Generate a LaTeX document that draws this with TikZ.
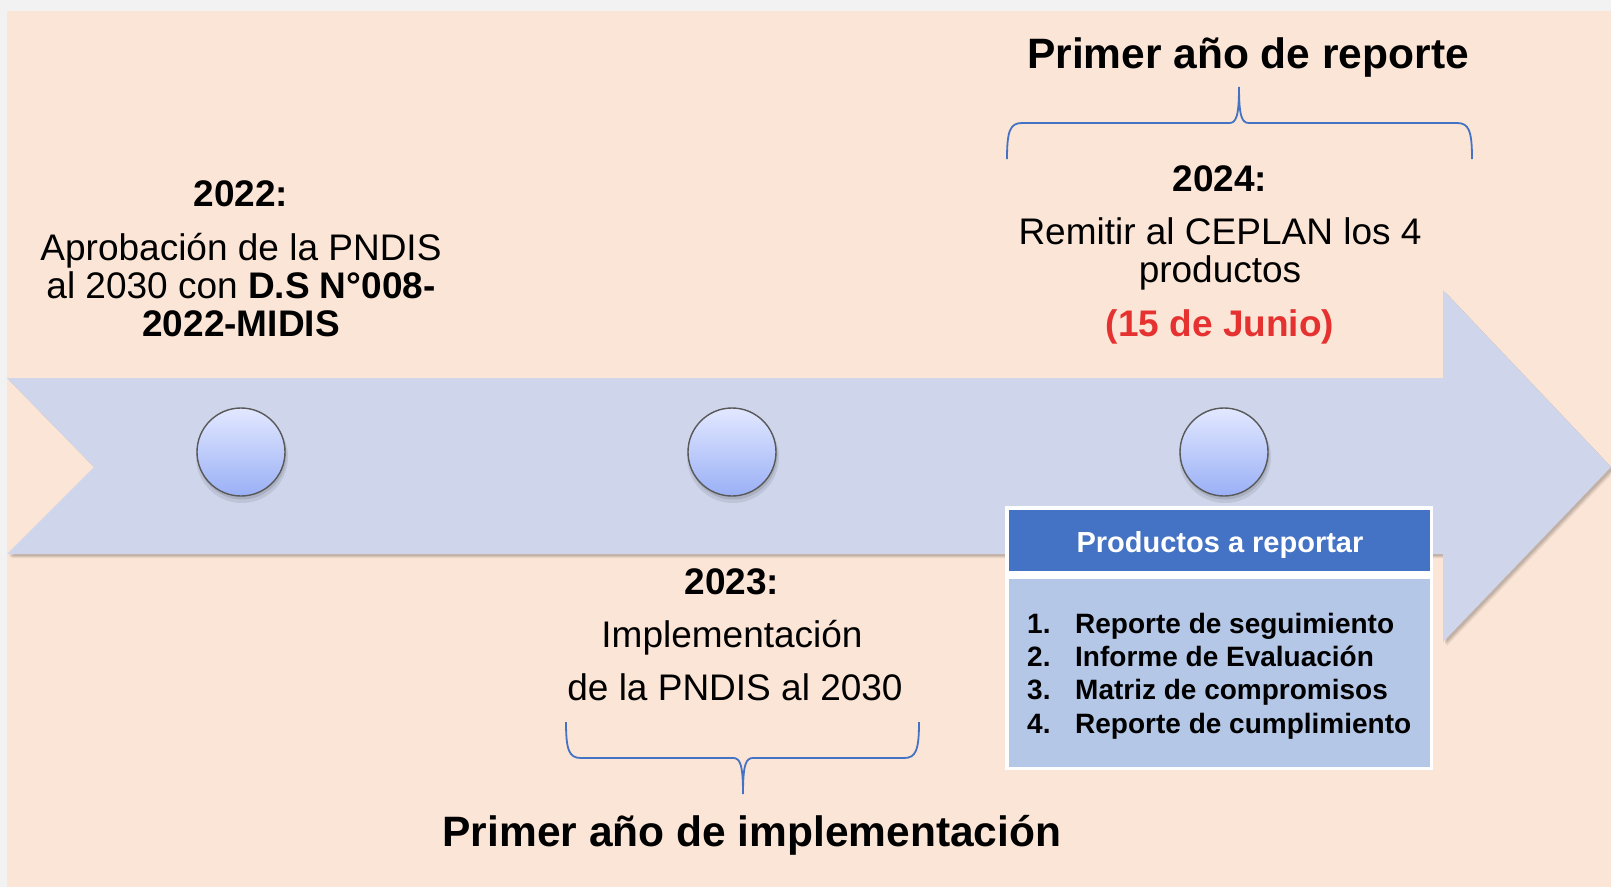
\documentclass[tikz,border=0pt]{standalone}
\usepackage{fontspec}
\setmainfont{Liberation Sans}
\definecolor{outerbg}{HTML}{F2F2F2}
\definecolor{peach}{HTML}{FBE5D6}
\definecolor{arrowc}{HTML}{CFD5EA}
\definecolor{hdrblue}{HTML}{4472C4}
\definecolor{bodyblue}{HTML}{B4C7E7}
\definecolor{bracec}{HTML}{4472C4}
\definecolor{redtxt}{RGB}{229,50,48}
\definecolor{dottop}{HTML}{E2E8FF}
\definecolor{dotbot}{HTML}{9AB0F6}
\tikzset{
  body/.style={anchor=base, inner sep=0pt, font=\fontsize{37}{38.5}\selectfont},
  bodyb/.style={body, font=\fontsize{37}{38.5}\selectfont\bfseries},
  titletxt/.style={anchor=base, inner sep=0pt, font=\fontsize{42.5}{44}\selectfont\bfseries},
  listtxt/.style={anchor=base west, inner sep=0pt, font=\fontsize{28}{30}\selectfont\bfseries},
  dot/.style={circle, minimum size=88pt, inner sep=0pt, draw={black!65}, line width=1.4pt,
    top color=dottop, bottom color=dotbot},
  bracestyle/.style={draw=bracec, line width=1.8pt},
  panel/.style={inner sep=0pt, outer sep=0pt, anchor=north west}
}
\begin{document}
\begin{tikzpicture}[x=1pt,y=-1pt]
\useasboundingbox (0,0) rectangle (1611,887);
\fill[outerbg] (0,0) rectangle (1611,887);
\fill[peach] (7,11) rectangle (1611,887);
% arrow shadow
\foreach \s/\o in {4/0.06,3/0.08,2/0.10}{
  \fill[black,opacity=\o,shift={(\s,\s)}] (7,378) -- (1443,378) -- (1443,290) -- (1611,467) -- (1443,642) -- (1443,554) -- (7,554) -- (94,467) -- cycle;
}
% arrow
\fill[arrowc] (7,378) -- (1443,378) -- (1443,290) -- (1611,467) -- (1443,642) -- (1443,554) -- (7,554) -- (94,467) -- cycle;
% circle shadows
\foreach \cx in {241,732,1224}{
  \fill[black,opacity=0.08] (\cx+1,457) circle (46);
  \fill[black,opacity=0.10] (\cx+1,455) circle (44.5);
}
\node[dot] (c1) at (241,452) {};
\node[dot] (c2) at (732,452) {};
\node[dot] (c3) at (1224,452) {};
% 2022 text
\node[bodyb] (y22) at (241,206) {2022:};
\node[body] (t22a) at (241,260) {Aprobación de la PNDIS};
\node[body] (t22b) at (241,298) {al 2030 con \textbf{D.S N°008-}};
\node[bodyb] (t22c) at (241,336) {2022-MIDIS};
% 2024 text
\node[bodyb] (y24) at (1220,191) {2024:};
\node[body] (t24a) at (1220,244) {Remitir al CEPLAN los 4};
\node[body] (t24b) at (1220,282) {productos};
\node[bodyb, text=redtxt] (t24c) at (1220,336) {(15 de Junio)};
% 2023 text
\node[bodyb] (y23) at (732,594) {2023:};
\node[body] (t23a) at (732,647) {Implementación};
\node[body] (t23b) at (735,700) {de la PNDIS al 2030};
% titles
\node[titletxt] (ttop) at (1248,68) {Primer año de reporte};
\node[titletxt] (tbot) at (752,846) {Primer año de implementación};
% braces
\draw[bracestyle] (1007,159) .. controls (1007,131) and (1010,123) .. (1022,123) -- (1229,123)
  .. controls (1236,123) and (1239,117) .. (1239,87)
  .. controls (1239,117) and (1242,123) .. (1249,123) -- (1457,123)
  .. controls (1469,123) and (1472,131) .. (1472,159);
\draw[bracestyle] (566,722) .. controls (566,750) and (569,758) .. (581,758) -- (733,758)
  .. controls (740,758) and (743,764) .. (743,794)
  .. controls (743,764) and (746,758) .. (753,758) -- (904,758)
  .. controls (916,758) and (919,750) .. (919,722);
% products box
\node[panel, fill=white, minimum width=428pt, minimum height=264pt] (frame) at (1005,506) {};
\node[panel, fill=hdrblue, minimum width=421pt, minimum height=61pt] (hdr) at (1008.5,509.5) {};
\node[panel, fill=bodyblue, minimum width=421pt, minimum height=188pt] (bodybox) at (1008.5,579) {};
\node[anchor=base, inner sep=0pt, text=white, font=\fontsize{29}{30}\selectfont\bfseries] (hdrtxt) at (1220,552) {Productos a reportar};
\node[listtxt] (n1) at (1027,633) {1.};
\node[listtxt] (n2) at (1027,666) {2.};
\node[listtxt] (n3) at (1027,699.5) {3.};
\node[listtxt] (n4) at (1027,733) {4.};
\node[listtxt] (l1) at (1075,633) {Reporte de seguimiento};
\node[listtxt] (l2) at (1075,666) {Informe de Evaluación};
\node[listtxt] (l3) at (1075,699.5) {Matriz de compromisos};
\node[listtxt] (l4) at (1075,733) {Reporte de cumplimiento};
\end{tikzpicture}
\end{document}
